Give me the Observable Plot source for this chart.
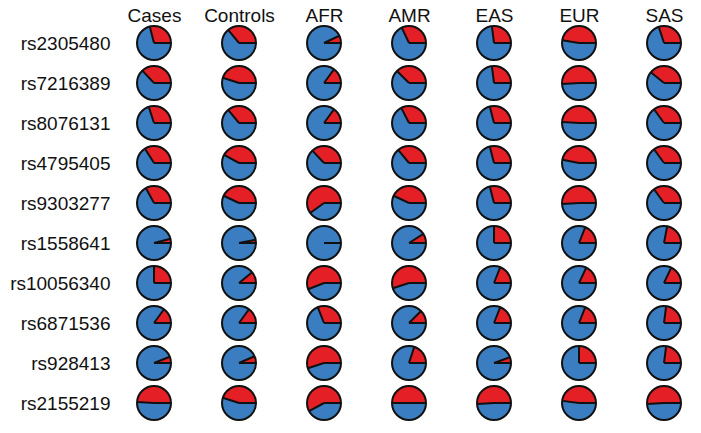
<!DOCTYPE html>
<html>
<head>
<meta charset="utf-8">
<script src="https://cdn.jsdelivr.net/npm/d3@7"></script>
<script src="https://cdn.jsdelivr.net/npm/@observablehq/plot@0.6"></script>
<style>
  html, body { margin: 0; padding: 0; background: #fff; }
  #chart { width: 701px; height: 433px; }
  svg { font-family: "Liberation Sans", Arial, sans-serif; }
</style>
</head>
<body>
<div id="chart"></div>
<script>
// Row categories (SNPs) and column categories (groups)
const snps = ["rs2305480","rs7216389","rs8076131","rs4795405","rs9303277","rs1558641","rs10056340","rs6871536","rs928413","rs2155219"];
const groups = ["Cases","Controls","AFR","AMR","EAS","EUR","SAS"];

// Red (allele) fraction for each SNP, per group
const cases    = [0.29, 0.37, 0.30, 0.34, 0.33, 0.04, 0.25, 0.15, 0.06, 0.49];
const controls = [0.36, 0.45, 0.36, 0.42, 0.43, 0.03, 0.11, 0.15, 0.065, 0.45];
const afr      = [0.07, 0.15, 0.15, 0.37, 0.60, 0.00, 0.56, 0.31, 0.55, 0.58];
const amr      = [0.32, 0.375, 0.325, 0.36, 0.43, 0.09, 0.55, 0.125, 0.20, 0.50];
const eas      = [0.27, 0.27, 0.29, 0.29, 0.29, 0.25, 0.19, 0.19, 0.055, 0.51];
const eur      = [0.475, 0.51, 0.49, 0.47, 0.51, 0.19, 0.18, 0.19, 0.25, 0.48];
const sas      = [0.30, 0.39, 0.35, 0.35, 0.35, 0.22, 0.18, 0.23, 0.23, 0.51];

const series = [cases, controls, afr, amr, eas, eur, sas];
const data = [];
groups.forEach((g, gi) => snps.forEach((s, si) => data.push({group: g, snp: s, frac: series[gi][si]})));

const RED = "#e41f26", BLUE = "#3b7dc1";
const R = 17;

function pieRender(index, scales, values) {
  const g = d3.create("svg:g");
  const arc = d3.arc().innerRadius(0).outerRadius(R);
  for (const i of index) {
    const cx = values.x[i], cy = values.y[i];
    const f = data[i].frac;
    const theta = 2 * Math.PI * f; // counterclockwise from 3 o'clock
    const pg = g.append("g").attr("transform", `translate(${cx},${cy})`);
    pg.append("circle").attr("r", R).attr("fill", BLUE);
    if (f > 0) {
      pg.append("path")
        .attr("d", arc({startAngle: Math.PI / 2 - theta, endAngle: Math.PI / 2}))
        .attr("fill", RED);
    }
    pg.append("path")
      .attr("d", `M0,0L${R},0M0,0L${R * Math.cos(theta)},${-R * Math.sin(theta)}`)
      .attr("stroke", "#111").attr("stroke-width", 2).attr("fill", "none");
    pg.append("circle").attr("r", R).attr("fill", "none")
      .attr("stroke", "#111").attr("stroke-width", 2);
  }
  return g.node();
}

const chart = Plot.plot({
  width: 701,
  height: 433,
  marginLeft: 153,
  marginRight: 36,
  marginTop: 43,
  marginBottom: 30,
  style: {fontFamily: "'Liberation Sans', Arial, sans-serif", color: "#111", background: "#fff"},
  x: {type: "point", domain: groups, padding: 0, axis: null},
  y: {type: "point", domain: snps, padding: 0, axis: null},
  marks: [
    Plot.axisX({anchor: "top", tickSize: 0, tickPadding: 22, fontSize: 19, label: null}),
    Plot.axisY({anchor: "left", tickSize: 0, tickPadding: 43, fontSize: 19, label: null}),
    Plot.dot(data, {x: "group", y: "snp", render: pieRender})
  ]
});
document.getElementById("chart").appendChild(chart);
</script>
</body>
</html>
